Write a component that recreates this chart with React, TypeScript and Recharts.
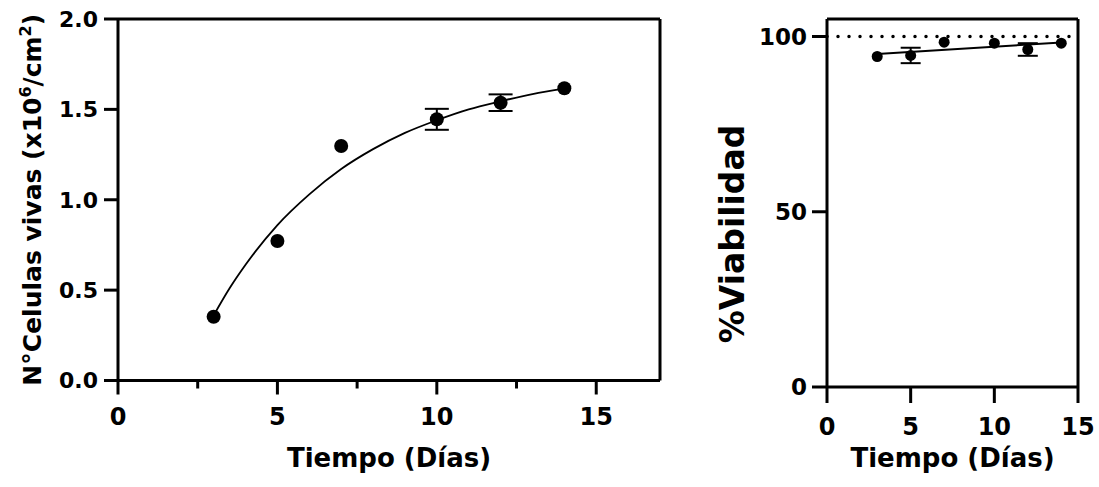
import React from 'react';
import { ComposedChart, Scatter, Line, XAxis, YAxis, ErrorBar, ReferenceLine, Label } from 'recharts';

// Celulas vivas (x10^6/cm2) vs tiempo
const dias = [3, 5, 7, 10, 12, 14];
const celVivas = [0.353, 0.772, 1.297, 1.445, 1.537, 1.617];
const celErr = [0, 0, 0, 0.058, 0.046, 0];

// ajuste (curva)
const curvaX = [3, 3.5, 4, 5, 6, 7, 8, 9, 10, 11, 12, 13, 14];
const curvaY = [0.36, 0.51, 0.64, 0.86, 1.03, 1.17, 1.28, 1.37, 1.44, 1.5, 1.545, 1.585, 1.615];

// % viabilidad
const viab = [94.3, 94.6, 98.4, 98.1, 96.3, 98.1];
const viabErr = [0, 2.2, 0, 0, 1.8, 0];
const rectaX = [3, 14];
const rectaY = [95.0, 98.3];

const leftXTicks = [0, 2.5, 5, 7.5, 10, 12.5, 15];
const leftYTicks = [0, 0.5, 1, 1.5, 2];
const rightXTicks = [0, 5, 10, 15];
const rightYTicks = [0, 50, 100];

const FONT = '"DejaVu Sans", sans-serif';

const celData = dias.map((x, i) => ({ x, y: celVivas[i], err: celErr[i] }));
const curvaData = curvaX.map((x, i) => ({ x, y: curvaY[i] }));
const viabData = dias.map((x, i) => ({ x, y: viab[i], err: viabErr[i] }));
const rectaData = rectaX.map((x, i) => ({ x, y: rectaY[i] }));

const LeftXTick = (props: any) => {
  const { x, y, payload } = props;
  const major = payload.value % 5 === 0;
  return (
    <g>
      <line x1={x} x2={x} y1={y} y2={y + (major ? 14 : 8)} stroke="#000" strokeWidth={3} />
      {major && (
        <text x={x} y={y + 27} dy="0.72em" textAnchor="middle" fontFamily={FONT} fontWeight="bold" fontSize={24} fill="#000">
          {payload.value}
        </text>
      )}
    </g>
  );
};

const tickStyle = { fontFamily: FONT, fontWeight: 'bold', fill: '#000' };

const XTitle = (props: any) => {
  const { viewBox } = props;
  const cx = viewBox.x + viewBox.width / 2;
  return (
    <text x={cx} y={viewBox.y + viewBox.height} textAnchor="middle" fontFamily={FONT} fontWeight="bold" fontSize={26} fill="#000">
      Tiempo (Días)
    </text>
  );
};

const LeftYTitle = (props: any) => {
  const { viewBox } = props;
  const cx = viewBox.x + 14;
  const cy = viewBox.y + viewBox.height / 2;
  return (
    <text x={cx} y={cy} dy="0.36em" transform={`rotate(-90 ${cx} ${cy})`} textAnchor="middle" fontFamily={FONT} fontWeight="bold" fontSize={25} fill="#000">
      N°Celulas vivas (x10
      <tspan dy={-10} fontSize={16}>6</tspan>
      <tspan dy={10}>/cm</tspan>
      <tspan dy={-10} fontSize={16}>2</tspan>
      <tspan dy={10}>)</tspan>
    </text>
  );
};

const RightYTitle = (props: any) => {
  const { viewBox } = props;
  const cx = viewBox.x + 5;
  const cy = viewBox.y + viewBox.height / 2 + 31;
  return (
    <text x={cx} y={cy} dy="0.36em" transform={`rotate(-90 ${cx} ${cy})`} textAnchor="middle" fontFamily={FONT} fontWeight="bold" fontSize={33} fill="#000">
      %Viabilidad
    </text>
  );
};

const dot = (r: number) => (p: any) => <circle cx={p.cx} cy={p.cy} r={r} fill="#000" />;

export default function App() {
  return (
    <div style={{ position: 'absolute', left: 0, top: 0, width: 1099, height: 487, background: '#fff' }}>
      <div style={{ position: 'absolute', left: 0, top: 0 }}>
        <ComposedChart width={680} height={487} margin={{ top: 19, right: 20, bottom: 20, left: 18 }}>
          <XAxis
            type="number"
            dataKey="x"
            domain={[0, 17]}
            ticks={leftXTicks}
            interval={0}
            tick={<LeftXTick />}
            tickLine={false}
            tickSize={0}
            tickMargin={0}
            height={86.5}
            axisLine={{ stroke: '#000', strokeWidth: 3 }}
          >
            <Label content={<XTitle />} />
          </XAxis>
          <YAxis
            type="number"
            domain={[0, 2]}
            ticks={leftYTicks}
            interval={0}
            tickFormatter={(v: number) => v.toFixed(1)}
            width={100}
            tickSize={14}
            tickMargin={6}
            tick={{ ...tickStyle, fontSize: 22 }}
            tickLine={{ stroke: '#000', strokeWidth: 3 }}
            axisLine={{ stroke: '#000', strokeWidth: 3 }}
          >
            <Label content={<LeftYTitle />} />
          </YAxis>
          <ReferenceLine y={2} stroke="#000" strokeWidth={3} />
          <ReferenceLine x={17} stroke="#000" strokeWidth={3} />
          <Line data={curvaData} dataKey="y" type="monotone" stroke="#000" strokeWidth={1.8} dot={false} isAnimationActive={false} />
          <Scatter data={celData} dataKey="y" shape={dot(7)} isAnimationActive={false}>
            <ErrorBar dataKey="err" direction="y" width={12} stroke="#000" strokeWidth={2} isAnimationActive={false} />
          </Scatter>
        </ComposedChart>
      </div>
      <div style={{ position: 'absolute', left: 700, top: 0 }}>
        <ComposedChart width={399} height={487} margin={{ top: 19, right: 21, bottom: 20, left: 27 }}>
          <XAxis
            type="number"
            dataKey="x"
            domain={[0, 15]}
            ticks={rightXTicks}
            interval={0}
            height={80}
            tickSize={16}
            tickMargin={15}
            tick={{ ...tickStyle, fontSize: 24 }}
            tickLine={{ stroke: '#000', strokeWidth: 3 }}
            axisLine={{ stroke: '#000', strokeWidth: 3 }}
          >
            <Label content={<XTitle />} />
          </XAxis>
          <YAxis
            type="number"
            domain={[0, 105]}
            ticks={rightYTicks}
            interval={0}
            width={100}
            tickSize={15}
            tickMargin={5}
            tick={{ ...tickStyle, fontSize: 23 }}
            tickLine={{ stroke: '#000', strokeWidth: 3 }}
            axisLine={{ stroke: '#000', strokeWidth: 3 }}
          >
            <Label content={<RightYTitle />} />
          </YAxis>
          <ReferenceLine y={105} stroke="#000" strokeWidth={3} />
          <ReferenceLine x={15} stroke="#000" strokeWidth={3} />
          <ReferenceLine y={100} stroke="#000" strokeWidth={3.5} strokeDasharray="0 11" strokeLinecap="round" />
          <Line data={rectaData} dataKey="y" type="linear" stroke="#000" strokeWidth={2} dot={false} isAnimationActive={false} />
          <Scatter data={viabData} dataKey="y" shape={dot(5.5)} isAnimationActive={false}>
            <ErrorBar dataKey="err" direction="y" width={10} stroke="#000" strokeWidth={2} isAnimationActive={false} />
          </Scatter>
        </ComposedChart>
      </div>
    </div>
  );
}
